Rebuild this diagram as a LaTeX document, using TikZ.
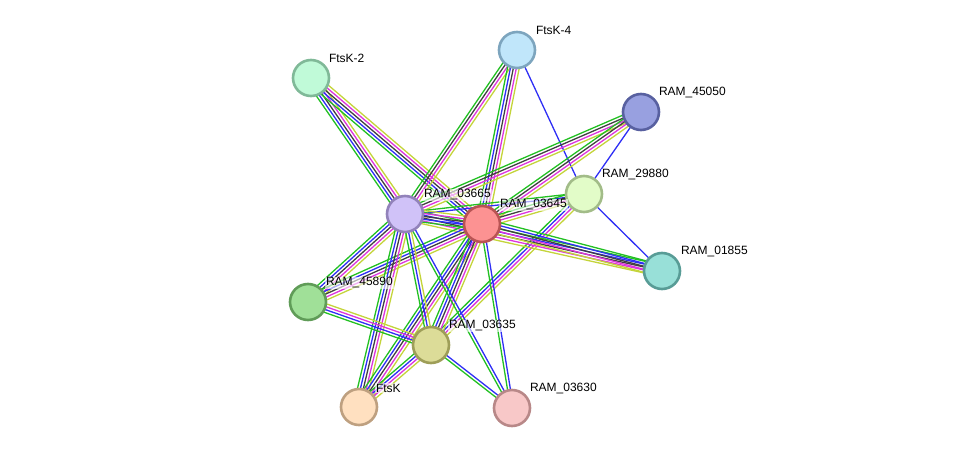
\documentclass[tikz,border=0pt]{standalone}
\usepackage{fontspec}
\setmainfont{Liberation Sans}
\usetikzlibrary{calc,backgrounds}
\definecolor{eg}{HTML}{22C022}
\definecolor{eb}{HTML}{2E2EF5}
\definecolor{ek}{HTML}{404040}
\definecolor{em}{HTML}{DD33DD}
\definecolor{ey}{HTML}{C4D43A}
\tikzset{
  prot/.style={circle, minimum size=36pt, inner sep=0pt, line width=2.6pt},
  lab/.style={anchor=west, font=\fontsize{12}{14}\selectfont, fill=white, fill opacity=0.6, text opacity=1, inner sep=0.8pt},
  edge/.style={line width=1.3pt},
}
\newcommand{\edgeb}[3]{%
  \foreach \c [count=\n] in {#3}{\xdef\ncount{\n}}%
  \foreach \c [count=\i] in {#3}{%
    \pgfmathsetmacro{\off}{(\i-(\ncount+1)/2)*2.9}%
    \draw[edge, \c] ($(#1)!\off pt!90:(#2)$) -- ($(#2)!\off pt!-90:(#1)$);
  }}
\begin{document}
\begin{tikzpicture}[x=1pt,y=-1pt]
\useasboundingbox (0,0) rectangle (975,454);
\node[prot, fill={rgb,255:red,192;green,230;blue,250}, draw={rgb,255:red,125;green,165;blue,190}] (f4) at (517,50) {};
\node[prot, fill={rgb,255:red,192;green,250;blue,216}, draw={rgb,255:red,128;green,185;blue,152}] (f2) at (311,78) {};
\node[prot, fill={rgb,255:red,152;green,160;blue,224}, draw={rgb,255:red,88;green,96;blue,160}] (r45050) at (641,112) {};
\node[prot, fill={rgb,255:red,226;green,252;blue,200}, draw={rgb,255:red,162;green,188;blue,136}] (r29880) at (584,194) {};
\node[prot, fill={rgb,255:red,208;green,194;blue,248}, draw={rgb,255:red,146;green,130;blue,186}] (r03665) at (405,214) {};
\node[prot, fill={rgb,255:red,252;green,146;blue,146}, draw={rgb,255:red,184;green,84;blue,84}] (r03645) at (482,224) {};
\node[prot, fill={rgb,255:red,152;green,224;blue,216}, draw={rgb,255:red,88;green,156;blue,150}] (r01855) at (662,271) {};
\node[prot, fill={rgb,255:red,160;green,224;blue,152}, draw={rgb,255:red,96;green,156;blue,88}] (r45890) at (308,302) {};
\node[prot, fill={rgb,255:red,220;green,220;blue,152}, draw={rgb,255:red,158;green,158;blue,88}] (r03635) at (431,345) {};
\node[prot, fill={rgb,255:red,255;green,224;blue,192}, draw={rgb,255:red,190;green,160;blue,128}] (ftsk) at (359,407) {};
\node[prot, fill={rgb,255:red,248;green,200;blue,200}, draw={rgb,255:red,184;green,136;blue,136}] (r03630) at (512,408) {};

\node[lab] (l1) at ($(f4)+(18,-20)$) {FtsK-4};
\node[lab] (l2) at ($(f2)+(17,-20)$) {FtsK-2};
\node[lab] (l3) at ($(r45050)+(17,-19)$) {RAM\_45050};
\node[lab] (l4) at ($(r29880)+(17,-19)$) {RAM\_29880};
\node[lab] (l5) at ($(r03665)+(18,-19)$) {RAM\_03665};
\node[lab] (l6) at ($(r03645)+(17,-19)$) {RAM\_03645};
\node[lab] (l7) at ($(r01855)+(18,-19)$) {RAM\_01855};
\node[lab] (l8) at ($(r45890)+(17,-19)$) {RAM\_45890};
\node[lab] (l9) at ($(r03635)+(17,-19)$) {RAM\_03635};
\node[lab] (l10) at ($(ftsk)+(16,-19)$) {FtsK};
\node[lab] (l11) at ($(r03630)+(17,-19)$) {RAM\_03630};

\begin{pgfonlayer}{background}
\edgeb{f2}{r03665}{eg,eb,ek,em,ey}
\edgeb{f2}{r03645}{eg,eb,ek,em,ey}
\edgeb{f4}{r03665}{eg,ek,em,ey}
\edgeb{f4}{r03645}{eg,eb,ek,em,ey}
\edgeb{f4}{r29880}{eb}
\edgeb{r45050}{r03665}{eg,ek,em,ey}
\edgeb{r45050}{r03645}{eg,ek,em,ey}
\edgeb{r45050}{r29880}{eb}
\edgeb{r29880}{r03665}{eg,eb}
\edgeb{r29880}{r03645}{eg,ek,em,ey}
\edgeb{r29880}{r01855}{eb}
\edgeb{r29880}{r03635}{eg,eb,em,ey}
\edgeb{r01855}{r03665}{eg,eb,ek,em,ey}
\edgeb{r01855}{r03645}{eg,eb,ek,em,ey}
\edgeb{r03665}{r03645}{eg,eb,ek,em,ey}
\edgeb{r03665}{r45890}{eg,eb,ek,em,ey}
\edgeb{r03645}{r45890}{eg,eb,ek,em,ey}
\edgeb{r03665}{ftsk}{eg,eb,ek,em,ey}
\edgeb{r03645}{ftsk}{eg,eb,ek,em,ey}
\edgeb{r03665}{r03635}{eg,eb,ey}
\edgeb{r03645}{r03635}{eg,eb,ek,em,ey}
\edgeb{r03665}{r03630}{eg,eb}
\edgeb{r03645}{r03630}{eg,eb}
\edgeb{r45890}{r03635}{eg,eb,em,ey}
\edgeb{r03635}{ftsk}{eg,eb,em,ey}
\edgeb{r03635}{r03630}{eg,eb}
\end{pgfonlayer}
\end{tikzpicture}
\end{document}
